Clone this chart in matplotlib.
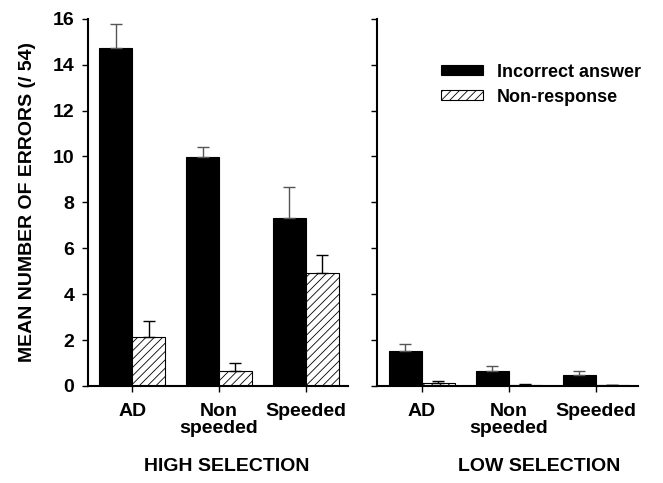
import matplotlib.pyplot as plt
import numpy as np

plt.rcParams['font.family'] = ['Liberation Sans', 'DejaVu Sans']
plt.rcParams['font.weight'] = 'bold'
plt.rcParams['axes.labelweight'] = 'bold'
plt.rcParams['hatch.linewidth'] = 0.6

conditions = ["AD", "Non\nspeeded", "Speeded"]

# high selection
high_incorrect = [14.74, 9.96, 7.30]
high_incorrect_err = [1.04, 0.47, 1.35]
high_nonresp = [2.13, 0.65, 4.91]
high_nonresp_err = [0.70, 0.35, 0.79]

# low selection
low_incorrect = [1.52, 0.65, 0.48]
low_incorrect_err = [0.31, 0.22, 0.17]
low_nonresp = [0.13, 0.06, 0.02]
low_nonresp_err = [0.07, 0.04, 0.01]

fig = plt.figure(figsize=(6.63, 4.83), dpi=100)
ax1 = fig.add_axes([0.133, 0.201, 0.392, 0.760])
ax2 = fig.add_axes([0.569, 0.201, 0.394, 0.760])

x = np.arange(len(conditions))
w = 0.38


def draw_panel(ax, inc, inc_err, nr, nr_err):
    ax.bar(x - w / 2, inc, w, color='black', edgecolor='black', linewidth=0.8,
           label='Incorrect answer')
    ax.bar(x + w / 2, nr, w, color='white', edgecolor='black', linewidth=0.8,
           hatch='////', label='Non-response')
    ax.errorbar(x - w / 2, inc, yerr=[np.zeros(3), inc_err], fmt='none',
                ecolor='#555555', elinewidth=1, capsize=4, capthick=1)
    ax.errorbar(x + w / 2, nr, yerr=[np.zeros(3), nr_err], fmt='none',
                ecolor='black', elinewidth=1, capsize=4, capthick=1)
    ax.set_xlim(-0.51, 2.49)
    ax.set_ylim(0, 16)
    ax.set_yticks(range(0, 17, 2))
    ax.set_xticks(x)
    ax.set_xticklabels(conditions, fontsize=14, fontweight='bold', linespacing=1.0)
    ax.spines['top'].set_visible(False)
    ax.spines['right'].set_visible(False)
    ax.spines['left'].set_linewidth(1.5)
    ax.spines['bottom'].set_linewidth(1.5)
    ax.tick_params(axis='x', length=4, width=1, pad=8)
    ax.tick_params(axis='y', length=4, width=1, pad=6)


draw_panel(ax1, high_incorrect, high_incorrect_err, high_nonresp, high_nonresp_err)
draw_panel(ax2, low_incorrect, low_incorrect_err, low_nonresp, low_nonresp_err)

ax1.set_yticklabels([str(v) for v in range(0, 17, 2)], fontsize=14, fontweight='bold')
ax1.set_ylabel('MEAN NUMBER OF ERRORS (/ 54)', fontsize=14, fontweight='bold', labelpad=12)
ax2.set_yticklabels([])

ax1.text(0.535, -0.22, 'HIGH SELECTION', transform=ax1.transAxes, ha='center',
         va='center', fontsize=14, fontweight='bold')
ax2.text(0.62, -0.22, 'LOW SELECTION', transform=ax2.transAxes, ha='center',
         va='center', fontsize=14, fontweight='bold')

ax2.legend(loc='upper left', bbox_to_anchor=(0.245, 0.878), frameon=False,
           handlelength=2.3, handleheight=0.45, labelspacing=0.45,
           handletextpad=0.8, borderpad=0, borderaxespad=0,
           prop={'weight': 'bold', 'size': 13})

fig.savefig('out.png', dpi=100)
